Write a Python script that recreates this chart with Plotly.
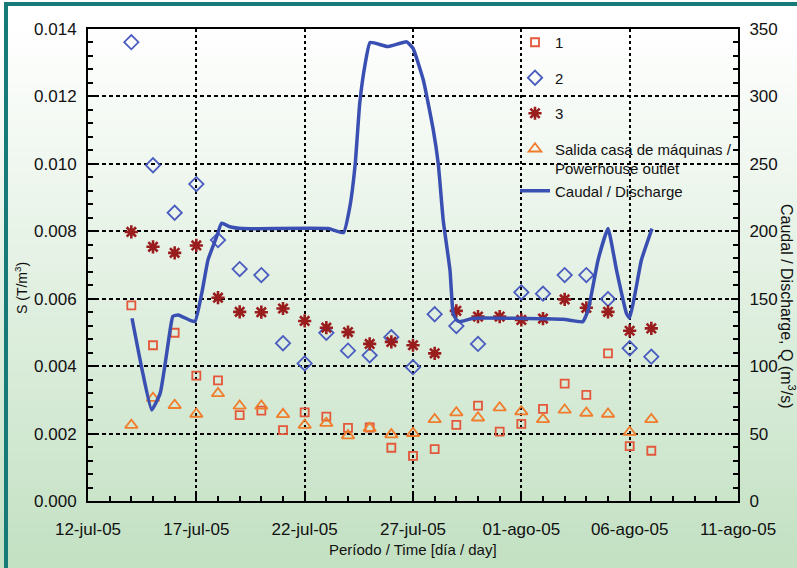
import plotly.graph_objects as go

# ---------------- data ----------------
dates = ["2005-07-14", "2005-07-15", "2005-07-16", "2005-07-17", "2005-07-18",
         "2005-07-19", "2005-07-20", "2005-07-21", "2005-07-22", "2005-07-23",
         "2005-07-24", "2005-07-25", "2005-07-26", "2005-07-27", "2005-07-28",
         "2005-07-29", "2005-07-30", "2005-07-31", "2005-08-01", "2005-08-02",
         "2005-08-03", "2005-08-04", "2005-08-05", "2005-08-06", "2005-08-07"]

s1 = [0.00580, 0.00462, 0.00499, 0.00372, 0.00358, 0.00255, 0.00268, 0.00210,
      0.00263, 0.00250, 0.00217, 0.00218, 0.00158, 0.00134, 0.00154, 0.00226,
      0.00283, 0.00206, 0.00229, 0.00273, 0.00348, 0.00315, 0.00438, 0.00163,
      0.00149]

s2 = [0.01361, 0.00996, 0.00855, 0.00940, 0.00774, 0.00688, 0.00670, 0.00468,
      0.00408, 0.00499, 0.00446, 0.00432, 0.00486, 0.00397, 0.00554, 0.00519,
      0.00466, None, 0.00619, 0.00615, 0.00670, 0.00670, 0.00599, 0.00453,
      0.00428]

s3 = [0.00798, 0.00754, 0.00736, 0.00758, 0.00603, 0.00561, 0.00560, 0.00571,
      0.00534, 0.00514, 0.00501, 0.00466, 0.00472, 0.00462, 0.00438, 0.00564,
      0.00547, 0.00547, 0.00537, 0.00541, 0.00598, 0.00573, 0.00561, 0.00505,
      0.00512]

salida = [0.00225, 0.00305, 0.00284, 0.00258, 0.00319, 0.00282, 0.00282, 0.00257,
          0.00225, 0.00231, 0.00194, 0.00216, 0.00197, 0.00201, 0.00242, 0.00262,
          0.00247, 0.00277, 0.00265, 0.00242, 0.00270, 0.00261, 0.00258, 0.00204,
          0.00242]

q_time = ["2005-07-14 00:45", "2005-07-14 12:00", "2005-07-14 22:30", "2005-07-15 08:00",
          "2005-07-15 19:00", "2005-07-15 22:00", "2005-07-16 04:00", "2005-07-16 17:00",
          "2005-07-16 22:30", "2005-07-17 06:00", "2005-07-17 13:00", "2005-07-17 22:30",
          "2005-07-18 04:00", "2005-07-18 13:00", "2005-07-19 03:30", "2005-07-23 02:00",
          "2005-07-23 19:00", "2005-07-24 02:00", "2005-07-24 08:00", "2005-07-24 13:00",
          "2005-07-24 19:00", "2005-07-25 00:30", "2005-07-25 20:00", "2005-07-26 17:00",
          "2005-07-27 00:00", "2005-07-27 11:30", "2005-07-27 22:30", "2005-07-28 04:00",
          "2005-07-28 09:30", "2005-07-28 17:00", "2005-07-28 20:30", "2005-07-29 00:30",
          "2005-07-29 04:00", "2005-07-29 19:00", "2005-08-02 22:00", "2005-08-03 20:00",
          "2005-08-04 02:00", "2005-08-04 13:00", "2005-08-05 00:00", "2005-08-05 09:30",
          "2005-08-05 20:30", "2005-08-06 00:00", "2005-08-06 06:00", "2005-08-06 13:00",
          "2005-08-07 00:45"]
q_vals = [135.5, 97, 67.5, 80, 127, 137, 138, 134, 133, 154, 179, 196, 206, 203.4, 202,
          202, 199, 218, 250, 295, 324, 340, 337, 340.5, 335.7, 312, 275, 250, 208, 171,
          139, 134, 133, 135.5, 134.7, 133, 141.6, 178.7, 202, 171, 139, 135.7, 154,
          178.7, 202]

x_tickvals = ["2005-07-12", "2005-07-17", "2005-07-22", "2005-07-27", "2005-08-01",
              "2005-08-06", "2005-08-11"]
x_ticktext = ["12-jul-05", "17-jul-05", "22-jul-05", "27-jul-05", "01-ago-05",
              "06-ago-05", "11-ago-05"]

# ---------------- geometry helpers ----------------
W, H = 797, 568
L, R, T, B = 88, 59, 29, 67
PW, PH = W - L - R, H - T - B


def px2x(px):
    return (px - L) / PW


def py2y(py):
    return (H - B - py) / PH


FONT = "Liberation Sans, Arial, sans-serif"

fig = go.Figure()

fig.add_trace(go.Scatter(x=dates, y=s1, mode="markers", name="1",
                         legendgroup="g1",
                         marker=dict(symbol="square-open", size=8, color="#e4573a",
                                     line=dict(width=1.8, color="#e4573a"))))
fig.add_trace(go.Scatter(x=dates, y=s2, mode="markers", name="2",
                         legendgroup="g2",
                         marker=dict(symbol="diamond-open", size=11, color="#4a5cbf",
                                     line=dict(width=1.8, color="#4a5cbf"))))
fig.add_trace(go.Scatter(x=dates, y=s3, mode="markers", name="3",
                         legendgroup="g3",
                         marker=dict(symbol="asterisk-open", size=11, color="#9a1d1d",
                                     line=dict(width=2.6, color="#9a1d1d"))))
fig.add_trace(go.Scatter(x=dates, y=salida, mode="markers",
                         name="Salida casa de máquinas /<br>Powerhouse outlet",
                         legendgroup="g4",
                         marker=dict(symbol="triangle-up-open", size=11, color="#f07c2c",
                                     line=dict(width=1.8, color="#f07c2c"))))
fig.add_trace(go.Scatter(x=q_time, y=q_vals, mode="lines", name="Caudal / Discharge",
                         legendgroup="g4", yaxis="y2",
                         line=dict(color="#3a4fb2", width=3.5, shape="spline",
                                   smoothing=0.4)))

# ---------------- background gradient + border ----------------
shapes = []
n = 60
top_px, bot_px = 30, H
for i in range(n):
    p0 = top_px + (bot_px - top_px) * i / n
    p1 = top_px + (bot_px - top_px) * (i + 1) / n + 1
    f = (i + 0.5) / n
    c = (int(255 - 60 * f), int(255 - 30 * f), int(255 - 60 * f))
    shapes.append(dict(type="rect", xref="paper", yref="paper", layer="below",
                       x0=px2x(0), x1=px2x(W + 5), y0=py2y(p1), y1=py2y(p0),
                       fillcolor=f"rgb{c}", line=dict(width=0)))
shapes.append(dict(type="rect", xref="paper", yref="paper", layer="below",
                   x0=px2x(6), x1=px2x(W + 60), y0=py2y(H + 60), y1=py2y(4),
                   fillcolor="rgba(0,0,0,0)", line=dict(color="#187a78", width=4)))

annotations = [
    dict(text="Período / Time [día / day]", xref="paper", yref="paper",
         x=px2x(413), y=py2y(549), xanchor="center", yanchor="middle",
         showarrow=False, font=dict(family=FONT, size=15, color="#111")),
    dict(text="S (T/m<sup>3</sup>)", xref="paper", yref="paper",
         x=px2x(21), y=py2y(288), xanchor="center", yanchor="middle",
         showarrow=False, textangle=-90,
         font=dict(family=FONT, size=14, color="#111")),
    dict(text="Caudal / Discharge, Q (m<sup>3</sup>/s)", xref="paper", yref="paper",
         x=px2x(788), y=py2y(306), xanchor="center", yanchor="middle",
         showarrow=False, textangle=90,
         font=dict(family=FONT, size=16, color="#111")),
]

fig.update_layout(
    width=W, height=H,
    margin=dict(l=L, r=R, t=T, b=B),
    paper_bgcolor="white",
    plot_bgcolor="rgba(0,0,0,0)",
    font=dict(family=FONT, size=17, color="#111"),
    shapes=shapes,
    annotations=annotations,
    showlegend=True,
    legend=dict(x=px2x(515), y=py2y(26), xanchor="left", yanchor="top",
                bgcolor="rgba(0,0,0,0)", borderwidth=0,
                font=dict(family=FONT, size=15, color="#111"),
                traceorder="grouped", tracegroupgap=13, valign="top"),
    xaxis=dict(
        type="date", range=["2005-07-12", "2005-08-11"],
        tickmode="array", tickvals=x_tickvals, ticktext=x_ticktext,
        ticks="inside", ticklen=7, tickwidth=1.5, tickcolor="black",
        ticklabelstandoff=12,
        showline=True, linecolor="black", linewidth=2, mirror=True,
        showgrid=True, gridcolor="black", gridwidth=2, griddash="3px,3px",
        zeroline=False, tickfont=dict(size=17),
        minor=dict(ticks="inside", ticklen=5, tickwidth=1.5, tickcolor="black",
                   dtick=86400000, tick0="2005-07-12", showgrid=False),
    ),
    yaxis=dict(
        range=[0, 0.014], tickmode="linear", tick0=0, dtick=0.002, tickformat=".3f",
        ticks="inside", ticklen=7, tickwidth=1.5, tickcolor="black",
        ticklabelstandoff=6,
        showline=True, linecolor="black", linewidth=2,
        showgrid=True, gridcolor="black", gridwidth=2, griddash="4px,3px",
        zeroline=False, tickfont=dict(size=17),
        minor=dict(ticks="inside", ticklen=5, tickwidth=1.5, tickcolor="black",
                   dtick=0.0004, showgrid=False),
    ),
    yaxis2=dict(
        overlaying="y", side="right", range=[0, 350], tickmode="linear", tick0=0,
        dtick=50, ticks="inside", ticklen=7, tickwidth=1.5, tickcolor="black",
        ticklabelstandoff=6,
        showline=True, linecolor="black", linewidth=2, showgrid=False,
        zeroline=False, tickfont=dict(size=17),
        minor=dict(ticks="inside", ticklen=5, tickwidth=1.5, tickcolor="black",
                   dtick=10, showgrid=False),
    ),
)

fig.write_html("out.html")
